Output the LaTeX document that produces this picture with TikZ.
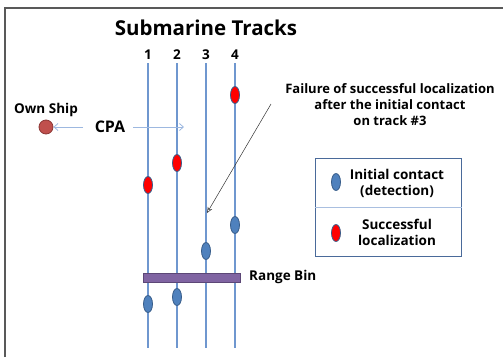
\documentclass[tikz,border=0pt]{standalone}
\usepackage{fontspec}
\setmainfont{Open Sans}
\usetikzlibrary{arrows.meta,shapes.geometric}
\definecolor{trk}{HTML}{6F97CF}
\definecolor{bfill}{HTML}{4F81BD}
\definecolor{bdraw}{HTML}{385D8A}
\definecolor{shipf}{HTML}{C0504D}
\definecolor{shipd}{HTML}{8C3836}
\definecolor{binf}{HTML}{8064A2}
\definecolor{bind}{HTML}{5C4776}
\definecolor{legd}{HTML}{4A6A9A}
\definecolor{legl}{HTML}{A9BFE0}
\definecolor{cpa}{HTML}{9DB8E0}
\tikzset{
  x=1pt, y=-1pt,
  lbl/.style={font=\bfseries\fontsize{13.5}{16}\selectfont, inner sep=0pt, align=center},
  bluedot/.style={ellipse, draw=bdraw, fill=bfill, line width=0.8pt, minimum width=9pt, minimum height=17pt, inner sep=0pt},
  reddot/.style={ellipse, draw=bdraw, fill=red, line width=0.8pt, minimum width=9pt, minimum height=17pt, inner sep=0pt},
  track/.style={draw=trk, line width=1.1pt},
}
\begin{document}
\begin{tikzpicture}
\useasboundingbox (0,0) rectangle (503,357);
\draw[gray!70!black, line width=1.3pt] (5,357) -- (5,8) -- (503,8);
\node[font=\bfseries\fontsize{20.5}{24}\selectfont, inner sep=0pt] (title) at (206,28) {Submarine Tracks};
% tracks
\foreach \i/\x in {1/148,2/177,3/206,4/235}{
  \node[lbl] (n\i) at (\x,55) {\i};
  \coordinate (t\i) at (\x,63);
  \coordinate (b\i) at (\x,348);
  \draw[track] (t\i) -- (b\i);
}
% range bin
\node[draw=bind, fill=binf, line width=0.8pt, minimum width=97pt, minimum height=9pt, inner sep=0pt] (bin) at (191.5,277.5) {};
\node[lbl, anchor=west] (binl) at (249,277) {Range Bin};
% dots
\node[reddot] (r4) at (235,95) {};
\node[reddot] (r2) at (177,163) {};
\node[reddot] (r1) at (148,185) {};
\node[bluedot] (d4) at (235,225) {};
\node[bluedot] (d3) at (206,251) {};
\node[bluedot] (d2) at (177,297) {};
\node[bluedot] (d1) at (148,304) {};
% own ship
\node[circle, draw=shipd, fill=shipf, line width=0.8pt, minimum size=14pt, inner sep=0pt] (ship) at (46,127) {};
\node[lbl] (shipl) at (46,110) {Own Ship};
\node[lbl, font=\bfseries\fontsize{16}{18}\selectfont] (cpa) at (110,127) {CPA};
\coordinate (cpaR) at (184,127);
\draw[cpa, line width=0.8pt, -{Straight Barb[length=4pt,width=7pt]}] (83,127) -- (ship);
\draw[cpa, line width=0.8pt, -{Straight Barb[length=4pt,width=7pt]}] (133,127) -- (cpaR);
% annotation
\node[lbl, font=\bfseries\fontsize{13}{16}\selectfont] (fail) at (390,105) {Failure of successful localization\\after the initial contact\\on track \#3};
\coordinate (fs) at (271,104);
\coordinate (fe) at (207,213);
\draw[black!80, line width=0.5pt, -{Stealth[length=6pt,width=5pt,open]}] (fs) -- (fe);
% legend
\node[draw=legd, line width=1.2pt, minimum width=146pt, minimum height=98pt, inner sep=0pt] (leg) at (388.5,207.5) {};
\draw[legl, line width=0.8pt] (leg.west) -- (leg.east);
\node[bluedot] (lb) at (336,182) {};
\node[reddot] (lr) at (336,233) {};
\node[lbl] (lbt) at (397,183) {Initial contact\\(detection)};
\node[lbl] (lrt) at (397,232) {Successful\\localization};
\end{tikzpicture}
\end{document}
